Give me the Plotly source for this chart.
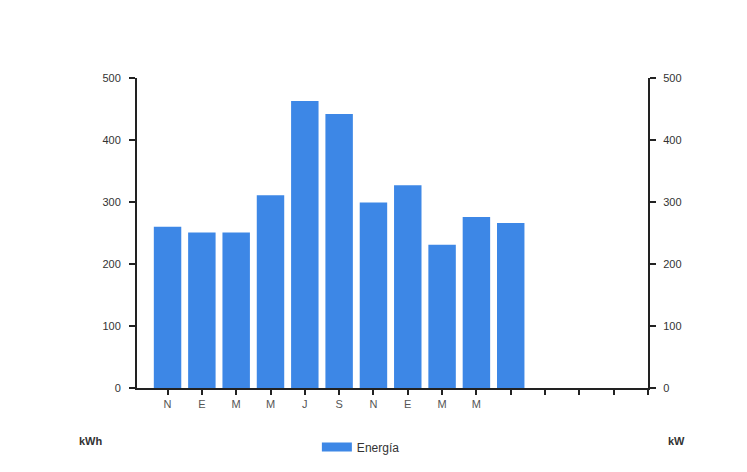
import plotly.graph_objects as go

categories = list(range(15))
tick_labels = ["N", "E", "M", "M", "J", "S", "N", "E", "M", "M", "", "", "", "", ""]
energia = [260, 251, 251, 311, 463, 442, 299, 327, 231, 276, 266]
bar_color = "#3d87e6"

fig = go.Figure()
fig.add_trace(go.Bar(
    x=categories[:len(energia)], y=energia, name="Energía",
    marker=dict(color=bar_color, line=dict(width=0)),
    width=0.8, showlegend=False,
))
# legend proxy (wide flat swatch like the reference)
fig.add_trace(go.Scatter(x=[None], y=[None], mode="lines", name="Energía",
                         line=dict(color=bar_color, width=9), showlegend=True))
# invisible trace to activate right axis
fig.add_trace(go.Scatter(x=[0], y=[0], yaxis="y2", mode="markers",
                         marker=dict(opacity=0), showlegend=False, hoverinfo="skip"))

y_font = dict(family="Liberation Sans, Arial, sans-serif", size=11, color="#333333")
x_font = dict(family="Liberation Sans, Arial, sans-serif", size=11, color="#555555")
fig.update_layout(
    width=747, height=472,
    margin=dict(l=129, r=107, t=70, b=92, autoexpand=False),
    paper_bgcolor="white", plot_bgcolor="white",
    xaxis=dict(range=[-0.89, 14], tickvals=categories, ticktext=tick_labels,
               showline=True, linecolor="#222222", linewidth=2,
               ticks="outside", ticklen=5, tickcolor="#222222", tickwidth=2,
               showgrid=False, zeroline=False, tickfont=x_font),
    yaxis=dict(range=[0, 500], tickvals=[0, 100, 200, 300, 400, 500],
               showline=True, linecolor="#222222", linewidth=2,
               ticks="outside", ticklen=6, tickcolor="#222222", tickwidth=1.5,
               ticklabelstandoff=6,
               showgrid=False, zeroline=False, tickfont=y_font),
    yaxis2=dict(range=[0, 500], tickvals=[0, 100, 200, 300, 400, 500],
                overlaying="y", side="right",
                showline=True, linecolor="#222222", linewidth=2,
                ticks="outside", ticklen=6, tickcolor="#222222", tickwidth=1.5,
                ticklabelstandoff=5,
                showgrid=False, zeroline=False, tickfont=y_font),
    showlegend=True,
    legend=dict(orientation="h", x=0.352, y=-0.19, xanchor="left", yanchor="middle",
                font=dict(family="Liberation Sans, Arial, sans-serif", size=12, color="#333333")),
    annotations=[
        dict(text="<b>kWh</b>", x=-0.118, y=-0.196, xref="paper", yref="paper",
             showarrow=False, font=dict(family="Liberation Sans, Arial, sans-serif", size=11, color="#333333")),
        dict(text="<b>kW</b>", x=1.076, y=-0.196, xref="paper", yref="paper",
             showarrow=False, font=dict(family="Liberation Sans, Arial, sans-serif", size=11, color="#333333")),
    ],
)

fig.write_html("out.html")
